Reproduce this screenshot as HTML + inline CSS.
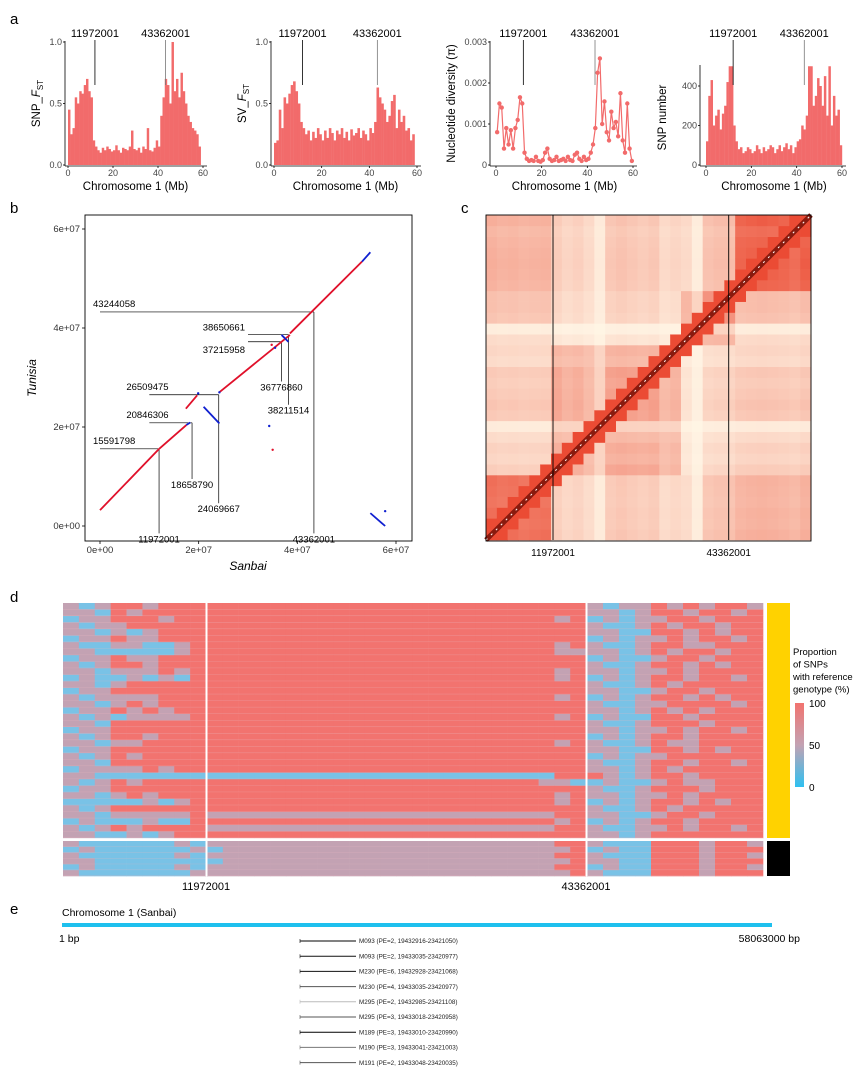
<!DOCTYPE html>
<html><head><meta charset="utf-8"><style>
html,body{margin:0;padding:0;background:#fff;}
svg{display:block;font-family:"Liberation Sans",sans-serif;}
</style></head><body>
<svg id="fig" width="863" height="1079" viewBox="0 0 863 1079" xmlns="http://www.w3.org/2000/svg">
<rect width="863" height="1079" fill="#fff"/>
<text x="10" y="24" font-size="15">a</text>
<text x="10" y="213" font-size="15">b</text>
<text x="461" y="213" font-size="15">c</text>
<text x="10" y="602" font-size="15">d</text>
<text x="10" y="914" font-size="15">e</text>
<g id="pa"></g>
<g id="pb"></g>
<g id="pc"></g>
<g id="pd"></g>
<g id="pe"></g>
</svg>
<script>
// ---------- Panel a data (per 1 Mb bin) ----------
const snpFst=[0.45,0.25,0.3,0.55,0.5,0.6,0.58,0.65,0.7,0.6,0.55,0.2,0.15,0.12,0.1,0.14,0.12,0.15,0.13,0.11,0.12,0.16,0.12,0.1,0.14,0.13,0.12,0.15,0.28,0.13,0.12,0.14,0.1,0.15,0.13,0.3,0.12,0.11,0.14,0.2,0.15,0.4,0.55,0.7,0.65,0.5,1.0,0.6,0.7,0.55,0.75,0.6,0.5,0.4,0.35,0.3,0.28,0.25,0.15,0];
const svFst=[0.18,0.2,0.45,0.3,0.55,0.5,0.58,0.65,0.68,0.6,0.5,0.35,0.3,0.25,0.28,0.2,0.27,0.22,0.3,0.25,0.2,0.28,0.22,0.3,0.26,0.2,0.28,0.25,0.3,0.22,0.27,0.2,0.29,0.24,0.26,0.3,0.22,0.28,0.25,0.2,0.3,0.26,0.35,0.63,0.55,0.5,0.45,0.35,0.4,0.52,0.57,0.3,0.45,0.35,0.4,0.28,0.3,0.2,0.25,0];
const piVals=[0.0008,0.0015,0.0014,0.0004,0.0009,0.0005,0.00085,0.0004,0.0009,0.0011,0.00165,0.0015,0.0003,0.00015,0.0001,0.00012,0.0001,0.0002,0.0001,0.00008,0.00012,0.0003,0.0004,0.00015,0.0001,0.00012,0.0002,0.0001,0.00012,0.00015,0.0001,0.0002,0.00012,0.0001,0.00025,0.0003,0.00015,0.0001,0.0002,0.00012,0.00015,0.0003,0.0005,0.0009,0.00225,0.0026,0.001,0.00155,0.0008,0.0006,0.0013,0.0009,0.00105,0.0007,0.00175,0.0006,0.0003,0.0015,0.0004,0.0001];
const snpCount=[120,350,430,200,250,280,180,260,300,420,500,500,200,120,80,90,60,70,90,80,60,70,100,80,60,90,70,80,100,90,60,80,100,70,90,110,80,100,60,90,120,130,200,180,250,500,500,300,350,440,400,300,450,250,500,200,350,250,280,100];
const xTicksA=[0,20,40,60];
const markersMb=[11.972001,43.362001];
const markerLabels=["11972001","43362001"];

// ---------- Panel b data ----------
const bTicks=[0,2e7,4e7,6e7];
const bTickLabels=["0e+00","2e+07","4e+07","6e+07"];
const segX1=[0,12e6,17.4e6,24.3e6,38.5e6,21e6,36.8e6,53.1e6,54.8e6,17.5e6];
const segY1=[3.2e6,15.6e6,23.7e6,27.1e6,38.9e6,24.1e6,38.6e6,53.4e6,2.6e6,20.4e6];
const segX2=[12e6,17.5e6,19.7e6,38.5e6,53.1e6,24.2e6,38.2e6,54.8e6,57.8e6,18.3e6];
const segY2=[15.6e6,20.4e6,26.4e6,38.6e6,53.4e6,20.7e6,37.2e6,55.3e6,0,20.9e6];
const segCol=["r","r","r","r","r","b","b","b","b","b"];
const dotX=[57.8e6,34.3e6,35e6,35.5e6,34.8e6,24.2e6,19.9e6];
const dotY=[3.0e6,20.2e6,15.4e6,36.0e6,36.6e6,27.0e6,26.8e6];
const dotCol=["b","b","r","b","r","b","b"];
const hY=[15591798,20846306,26509475,37215958,38650661,43244058];
const hFrom=[0,10e6,10e6,30e6,30e6,0];
const hTo=[11972001,18658790,24069667,36776860,38211514,43362001];
const vX=[11972001,18658790,24069667,36776860,38211514,43362001];
const vFrom=[15591798,20846306,26509475,37215958,38650661,43244058];
const vTo=[-1.5e6,9.5e6,4.6e6,29.2e6,24.5e6,-1.5e6];

// ---------- Panel c data (30 bins) ----------
const cBase=[0.75,0.7,0.72,0.68,0.7,0.72,0.45,0.35,0.4,0.3,0.12,0.5,0.55,0.5,0.45,0.5,0.3,0.35,0.3,0.1,0.55,0.6,0.6,0.75,0.78,0.8,0.78,0.75,0.7,0.8];
const cBlock=[0,0,0,0,0,0,1,1,1,1,1,1,1,1,1,1,1,1,2,2,2,2,2,3,3,3,3,3,3,3];

// ---------- Panel d data ----------
const dLeft=["MBMRRMRRR","MMBRMRRRR","BMMRRRMRR","MBMMRRRRR","MMBMBMRRR","BMMRMMRRR","MBBMMBBMR","MMBBBBBMR","BMMRMMRRR","MBMRRMRRR","MMBMMMRMR","BMBBMBMBR","MMBMRRRRR","BMMRRRRRR","MBMMMMRRR","MMBMRMRRR","BMMRMRMRR","MBMBMMMMR","MMBRRRRRR","BMMRRRRRR","MBMRRMRRR","MMBMMRRRR","BMMRRRRRR","MBMRMRRRR","MMBRRRRRR","BMMMMRMRR","MMBBBBBBB","MBMRMRRRR","BMMRRRRRR","MMBMRMRRR","BBBBBMBMR","MBMRRRRRR","MMBMMMMMR","BMBBBMBBR","MBMRMRRRR","MMBBMBMRR","MBBBBBBMB","BMBBBBBBM","MBBBBBBMB","MMBBBBBBB","BMBBBBBMB","MBBBBBBBM"];
const dMid=["RRRRRRRRRRRRRRRRRRRRRRRR","RRRRRRRRRRRRRRRRRRRRRRRR","RRRRRRRRRRRRRRRRRRRRRRMR","RRRRRRRRRRRRRRRRRRRRRRRR","RRRRRRRRRRRRRRRRRRRRRRRR","RRRRRRRRRRRRRRRRRRRRRRRR","RRRRRRRRRRRRRRRRRRRRRRMR","RRRRRRRRRRRRRRRRRRRRRRMM","RRRRRRRRRRRRRRRRRRRRRRRR","RRRRRRRRRRRRRRRRRRRRRRRR","RRRRRRRRRRRRRRRRRRRRRRMR","RRRRRRRRRRRRRRRRRRRRRRMR","RRRRRRRRRRRRRRRRRRRRRRRR","RRRRRRRRRRRRRRRRRRRRRRRR","RRRRRRRRRRRRRRRRRRRRRRMR","RRRRRRRRRRRRRRRRRRRRRRRR","RRRRRRRRRRRRRRRRRRRRRRRR","RRRRRRRRRRRRRRRRRRRRRRMR","RRRRRRRRRRRRRRRRRRRRRRRR","RRRRRRRRRRRRRRRRRRRRRRRR","RRRRRRRRRRRRRRRRRRRRRRRR","RRRRRRRRRRRRRRRRRRRRRRMR","RRRRRRRRRRRRRRRRRRRRRRRR","RRRRRRRRRRRRRRRRRRRRRRRR","RRRRRRRRRRRRRRRRRRRRRRRR","RRRRRRRRRRRRRRRRRRRRRRRR","BBBBBBBBBBBBBBBBBBBBBBRR","RRRRRRRRRRRRRRRRRRRRRMMB","RRRRRRRRRRRRRRRRRRRRRRRR","RRRRRRRRRRRRRRRRRRRRRRMR","RRRRRRRRRRRRRRRRRRRRRRMR","RRRRRRRRRRRRRRRRRRRRRRRR","MMMMMMMMMMMMMMMMMMMMMMRR","RRRRRRRRRRRRRRRRRRRRRRMR","MMMMMMMMMMMMMMMMMMMMMMRR","RRRRRRRRRRRRRRRRRRRRRRRR","MMMMMMMMMMMMMMMMMMMMMMRR","BMMMMMMMMMMMMMMMMMMMMMMR","MMMMMMMMMMMMMMMMMMMMMMRR","BMMMMMMMMMMMMMMMMMMMMMMR","MMMMMMMMMMMMMMMMMMMMMMRR","MMMMMMMMMMMMMMMMMMMMMMMR"];
const dRight=["MBMMRMRMRRM","MMBMRRMRRMR","BMBMMRRMRRR","MBBMRMRRMRR","MMBBRRMRMRR","BMBMMRMRRMR","MBBMRRMMRRR","MMBMRMRRMRR","BMBBMRRMRRR","MBBMRRMRMRR","MMBMMRMRRRR","BMBMRRMRRMR","MBBMRMRRRRR","MMBBMRRMRRR","BMBMRRMRMRR","MBBMMRRRRMR","MMBMRMRMRRR","BMBBRRMRRRR","MBBMRRRMRRR","MMBMMRMRRMR","BMBMRRMRRRR","MBBMRMMRRRR","MMBBRRMRMRR","BMBMMRRRRRR","MBBMRRMRRMR","MMBMRMRRRRR","RMBMRRMRRRR","BMBBMRMMRRR","MBBMRRRMRRR","MMBMMRMRRRR","BMBMRRMRMRR","MBBMRMRRRRR","MMBBMRRMRRR","BMBMRRMRRRR","MBBMMRMRRMR","MMBMRRRRRRR","MBBBRRRMRRM","BMBBRRRMRRR","MBBBRRRMRRM","MMBBRRRMRRR","BMBBRRRMRRM","MBBBRRRMRRR"];
const legendTicks=[100,50,0];

// ---------- Panel e data ----------
const eLabels=["M093 (PE=2, 19432916-23421050)","M093 (PE=2, 19433035-23420977)","M230 (PE=6, 19432928-23421068)","M230 (PE=4, 19433035-23420977)","M295 (PE=2, 19432985-23421108)","M295 (PE=3, 19433018-23420958)","M189 (PE=3, 19433010-23420990)","M190 (PE=3, 19433041-23421003)","M191 (PE=2, 19433048-23420035)"];
const eColors=["#000","#111","#111","#555","#bbb","#555","#000","#777","#555"];

const NS="http://www.w3.org/2000/svg";
function mk(tag,parent,attrs){const e=document.createElementNS(NS,tag);for(const k in attrs)e.setAttribute(k,attrs[k]);parent.appendChild(e);return e;}
function txt(parent,x,y,s,size,anchor,extra){const t=mk('text',parent,Object.assign({x:x,y:y,'font-size':size,'text-anchor':anchor||'start'},extra||{}));t.textContent=s;return t;}

// ---------- Panel a ----------
const pa=document.getElementById('pa');
const plots=[
 {vals:snpFst,x0:68,x60:203,ax:65,ymax:1.0,ytop:42,ticks:[0,0.5,1.0],tl:["0.0","0.5","1.0"],lab:"SNP_",sub:true,labx:40,type:'bar',name:'snp-fst'},
 {vals:svFst,x0:274,x60:417,ax:271,ymax:1.0,ytop:42,ticks:[0,0.5,1.0],tl:["0.0","0.5","1.0"],lab:"SV_",sub:true,labx:246,type:'bar',name:'sv-fst'},
 {vals:piVals,x0:496,x60:633,ax:490,ymax:0.003,ytop:42,ticks:[0,0.001,0.002,0.003],tl:["0","0.001","0.002","0.003"],lab:"Nucleotide diversity (π)",sub:false,labx:455,type:'pt',name:'nucleotide-diversity'},
 {vals:snpCount,x0:706,x60:842,ax:700,ymax:400,ytop:86,ticks:[0,200,400],tl:["0","200","400"],lab:"SNP number",sub:false,labx:666,type:'bar',name:'snp-number'}];
const yb=165;
plots.forEach(p=>{
 const g=mk('g',pa,{});
 
 
 const xs=v=>p.x0+(p.x60-p.x0)*v/60;
 const ys=v=>yb-(yb-p.ytop)*v/p.ymax;
 const bw=(p.x60-p.x0)/60;
 if(p.type==='bar'){
  p.vals.forEach((v,i)=>{const r=mk('rect',g,{x:xs(i),y:ys(v),width:bw+0.2,height:yb-ys(v),fill:'#f26b6b'});
   });
 } else {
  let d='';p.vals.forEach((v,i)=>{d+=(i?'L':'M')+xs(i+0.5)+' '+ys(v);});
  mk('path',g,{d:d,fill:'none',stroke:'#f26b6b','stroke-width':1.2});
  p.vals.forEach((v,i)=>{const c=mk('circle',g,{cx:xs(i+0.5),cy:ys(v),r:2.2,fill:'#f26b6b'});
   });
 }
 const topPx=(p.name==='snp-number')?65:41;
 mk('line',g,{x1:p.ax,y1:topPx,x2:p.ax,y2:yb+1,stroke:'#000','stroke-width':0.8});
 mk('line',g,{x1:p.ax,y1:yb+1,x2:p.x60+4,y2:yb+1,stroke:'#000','stroke-width':0.8});
 p.ticks.forEach((t,i)=>{mk('line',g,{x1:p.ax-2,y1:ys(t),x2:p.ax,y2:ys(t),stroke:'#000','stroke-width':0.8});
  txt(g,p.ax-3,ys(t)+3,p.tl[i],9,'end',{fill:'#444'});});
 xTicksA.forEach(t=>{mk('line',g,{x1:xs(t),y1:yb+1,x2:xs(t),y2:yb+3,stroke:'#000','stroke-width':0.8});
  txt(g,xs(t),yb+11,String(t),9,'middle',{fill:'#444'});});
 const xl=txt(g,(p.x0+p.x60)/2,yb+25,"Chromosome 1 (Mb)",11.5,'middle');
 
 const cy=(yb+p.ytop)/2+ (p.name==='snp-number'?-8:0);
 const yl=txt(g,p.labx,cy,p.lab,11.5,'middle',{transform:`rotate(-90 ${p.labx} ${cy})`});
 if(p.sub){const ts=mk('tspan',yl,{'font-style':'italic'});ts.textContent='F';const t2=mk('tspan',yl,{'font-size':8,dy:3});t2.textContent='ST';}
 
 markersMb.forEach((m,i)=>{const x=xs(m);
  mk('line',g,{x1:x,y1:40,x2:x,y2:85,stroke:i?'#777':'#000','stroke-width':0.8});
  const t=txt(g,x,37,markerLabels[i],11,'middle');
  });
});

// ---------- Panel b ----------
const pb=document.getElementById('pb');
const bx=v=>100+(396-100)*v/6e7;
const by=v=>526-(526-229)*v/6e7;
mk('rect',pb,{x:85,y:215,width:327,height:326,fill:'none',stroke:'#000','stroke-width':0.9});
bTicks.forEach((t,i)=>{
 mk('line',pb,{x1:bx(t),y1:541,x2:bx(t),y2:544,stroke:'#000','stroke-width':0.8});
 txt(pb,bx(t),553,bTickLabels[i],9.5,'middle',{fill:'#333'});
 mk('line',pb,{x1:82,y1:by(t),x2:85,y2:by(t),stroke:'#000','stroke-width':0.8});
 txt(pb,80,by(t)+3,bTickLabels[i],9.5,'end',{fill:'#333'});
});
const sx=txt(pb,248,570,"Sanbai",12,'middle',{'font-style':'italic'});

const sy=txt(pb,36,378,"Tunisia",12,'middle',{'font-style':'italic',transform:'rotate(-90 36 378)'});

hY.forEach((y,i)=>{
 mk('line',pb,{x1:bx(hFrom[i]),y1:by(y),x2:bx(hTo[i]),y2:by(y),stroke:'#000','stroke-width':0.7});
 let t;
 if(hFrom[i]===0) t=txt(pb,bx(hFrom[i])-7,by(y)-5,String(y),9.5,'start');
 else if(hFrom[i]<2e7) t=txt(pb,bx(hFrom[i])-23,by(y)-5,String(y),9.5,'start');
 else if(y<38e6) t=txt(pb,bx(hFrom[i])-3,by(y)+11,String(y),9.5,'end');
 else t=txt(pb,bx(hFrom[i])-3,by(y)-4,String(y),9.5,'end');
 
});
vX.forEach((x,i)=>{
 mk('line',pb,{x1:bx(x),y1:by(vFrom[i]),x2:bx(x),y2:by(vTo[i]),stroke:'#000','stroke-width':0.7});
 const t=txt(pb,bx(x),by(vTo[i])+9,String(x),9.5,'middle');
 
});
segX1.forEach((x,i)=>{
 const l=mk('line',pb,{x1:bx(x),y1:by(segY1[i]),x2:bx(segX2[i]),y2:by(segY2[i]),stroke:segCol[i]==='r'?'#e0102a':'#1020d0','stroke-width':1.8});
 
});
dotX.forEach((x,i)=>{
 const c=mk('circle',pb,{cx:bx(x),cy:by(dotY[i]),r:1.2,fill:dotCol[i]==='r'?'#e0102a':'#1020d0'});
 
});

// ---------- Panel c ----------
const pc=document.getElementById('pc');
const cx0=486,cy0=215,cw=325;
const n=cBase.length,cs=cw/n;
function heatCol(v){
 const a=[255,246,230],b=[232,45,20],c=[120,20,10];
 let r;
 if(v<=1){r=a.map((q,k)=>q+(b[k]-q)*v);} else {const t=Math.min(v-1,1);r=b.map((q,k)=>q+(c[k]-q)*t);}
 return `rgb(${r.map(Math.round).join(',')})`;
}
for(let i=0;i<n;i++)for(let j=0;j<n;j++){
 let v=0.6*cBase[i]*cBase[j]+(cBlock[i]===cBlock[j]?0.35*Math.min(cBase[i],cBase[j])+0.1:0);
 if(Math.abs(i-j)<=1)v=Math.max(v,0.85);
 const r=mk('rect',pc,{x:cx0+i*cs,y:cy0+cw-(j+1)*cs,width:cs+0.3,height:cs+0.3,fill:heatCol(v)});
 
}
mk('line',pc,{x1:cx0,y1:cy0+cw,x2:cx0+cw,y2:cy0,stroke:'#8a1a0e','stroke-width':5});
mk('line',pc,{x1:cx0,y1:cy0+cw,x2:cx0+cw,y2:cy0,stroke:'#fff','stroke-width':1,'stroke-dasharray':'2 5'});
mk('rect',pc,{x:cx0,y:cy0,width:cw,height:cw+1,fill:'none',stroke:'#000','stroke-width':0.9});
markersMb.forEach((m,i)=>{const x=cx0+cw*m/58.063;
 mk('line',pc,{x1:x,y1:cy0,x2:x,y2:cy0+cw,stroke:'#000','stroke-width':0.9});
 const t=txt(pc,x,556,markerLabels[i],10,'middle');
 });

// ---------- Panel d ----------
const pd=document.getElementById('pd');
const colMap={R:'#f2736f',B:'#79c2e6',M:'#c3a2b3'};
const segs=[[63,206,9],[207,586,24],[587,763,11]];
const src=[dLeft,dMid,dRight];
const nTop=36,topY=603,topH=235,botY=841,botH=35;
for(let r=0;r<dLeft.length;r++){
 const isBot=r>=nTop;
 const rh=isBot?botH/(dLeft.length-nTop):topH/nTop;
 const y=isBot?botY+(r-nTop)*rh:topY+r*rh;
 segs.forEach((s,si)=>{
  const str=src[si][r];const w=(s[1]-s[0])/s[2];
  for(let c=0;c<str.length;c++){
   const e=mk('rect',pd,{x:s[0]+c*w,y:y,width:w+0.3,height:rh+0.3,fill:colMap[str[c]]});
   
  }
 });
 mk('line',pd,{x1:63,y1:y+rh-0.3,x2:763,y2:y+rh-0.3,stroke:'#e8b8c0','stroke-width':0.4,opacity:0.6});
}
mk('line',pd,{x1:206.5,y1:603,x2:206.5,y2:876,stroke:'#fff','stroke-width':2});
mk('line',pd,{x1:586.5,y1:603,x2:586.5,y2:876,stroke:'#fff','stroke-width':2});
mk('line',pd,{x1:63,y1:839.5,x2:763,y2:839.5,stroke:'#fff','stroke-width':2.5});
const yb2=mk('rect',pd,{x:767,y:603,width:23,height:235,fill:'#ffd200'});

const bb=mk('rect',pd,{x:767,y:841,width:23,height:35,fill:'#000'});

markersMb.forEach((m,i)=>{const t=txt(pd,[206,586][i],890,markerLabels[i],11,'middle');
 });
const lg=mk('g',pd,{});

["Proportion","of SNPs","with reference","genotype (%)"].forEach((s,i)=>txt(lg,793,655+i*12.5,s,9.5,'start'));
const grad=mk('linearGradient',mk('defs',lg,{}),{id:'lgd',x1:0,y1:0,x2:0,y2:1});
mk('stop',grad,{offset:'0','stop-color':'#f2736f'});
mk('stop',grad,{offset:'0.5','stop-color':'#c3a2b3'});
mk('stop',grad,{offset:'1','stop-color':'#2ec0f0'});
mk('rect',lg,{x:795,y:703,width:9,height:84,fill:'url(#lgd)'});
legendTicks.forEach(t=>txt(lg,809,787-84*t/100+4,String(t),10,'start'));

// ---------- Panel e ----------
const pe=document.getElementById('pe');
txt(pe,62,916,"Chromosome 1 (Sanbai)",10.5,'start');
const chr=mk('rect',pe,{x:62,y:923,width:710,height:4,fill:'#1ec0ee'});

txt(pe,59,942,"1 bp",10.5,'start');
txt(pe,800,942,"58063000 bp",10.5,'end');
eLabels.forEach((s,i)=>{const y=941+i*15.2;
 const g=mk('g',pe,{});
 
 mk('line',g,{x1:300,y1:y,x2:356,y2:y,stroke:eColors[i],'stroke-width':1});
 mk('line',g,{x1:300,y1:y-2,x2:300,y2:y+2,stroke:eColors[i],'stroke-width':0.6});
 txt(g,359,y+2.2,s,6.3,'start',{fill:'#222'});
});
</script>
</body></html>
